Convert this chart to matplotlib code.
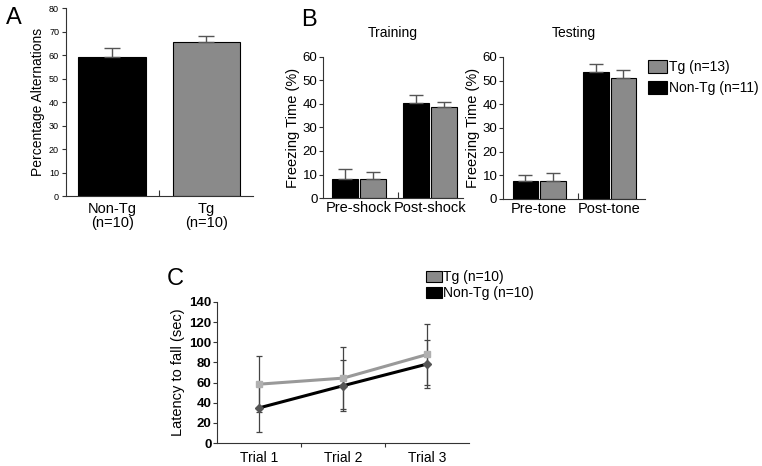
import numpy as np
import matplotlib
matplotlib.use('Agg')
import matplotlib.pyplot as plt
from matplotlib.patches import Patch
from matplotlib.lines import Line2D

plt.rcParams['font.family'] = ['Liberation Sans', 'DejaVu Sans']

# panel A - spontaneous alternation
a_groups = ['Non-Tg\n(n=10)', 'Tg\n(n=10)']
a_means = [59.5, 65.5]
a_err = [3.5, 2.7]

# panel B - fear conditioning
train_cats = ['Pre-shock', 'Post-shock']
train_nontg = [8.0, 40.5]
train_nontg_err = [4.2, 3.2]
train_tg = [8.0, 38.5]
train_tg_err = [3.2, 2.2]

test_cats = ['Pre-tone', 'Post-tone']
test_nontg = [7.5, 53.5]
test_nontg_err = [2.5, 3.5]
test_tg = [7.5, 51.0]
test_tg_err = [3.5, 3.3]

# panel C - rotarod
trials = ['Trial 1', 'Trial 2', 'Trial 3']
c_tg = [58.5, 64.5, 88.0]
c_tg_err = [28.0, 31.0, 30.0]
c_nontg = [35.0, 57.0, 78.5]
c_nontg_err = [24.0, 25.0, 24.0]

black = '#000000'
gray = '#8a8a8a'
errc = '#555555'

fig = plt.figure(figsize=(7.62, 4.66), dpi=100)


def style_axes(ax):
    for s in ['top', 'right']:
        ax.spines[s].set_visible(False)
    for s in ['left', 'bottom']:
        ax.spines[s].set_color('#333333')
        ax.spines[s].set_linewidth(0.8)


# ---- A ----
axA = fig.add_axes([0.0866, 0.579, 0.245, 0.403])
x = np.arange(len(a_groups))
axA.bar(x, a_means, width=0.72, color=[black, gray], edgecolor=black, linewidth=0.8,
        yerr=[[0, 0], a_err], error_kw=dict(ecolor=errc, capsize=6, elinewidth=1, capthick=1))
axA.set_xlim(-0.49, 1.49)
axA.set_ylim(0, 80)
axA.set_yticks(np.arange(0, 81, 10))
axA.tick_params(axis='y', labelsize=6.5, length=3, width=0.8, color='#333333', pad=2)
axA.set_xticks(x)
axA.set_xticklabels(a_groups, fontsize=10.5, linespacing=1.0)
axA.tick_params(axis='x', length=0, pad=4)
axA.set_xticks([0.5], minor=True)
axA.tick_params(axis='x', which='minor', direction='in', length=4, width=0.8, color='#333333')
axA.set_ylabel('Percentage Alternations', fontsize=10, labelpad=3)
style_axes(axA)


def fear_panel(rect, cats, nontg, nontg_err, tg, tg_err, title, xlim):
    ax = fig.add_axes(rect)
    xx = np.arange(len(cats))
    ax.bar(xx - 0.197, nontg, width=0.366, color=black, edgecolor=black, linewidth=0.8,
           yerr=[[0] * len(nontg), nontg_err],
           error_kw=dict(ecolor=errc, capsize=5, elinewidth=1, capthick=1))
    ax.bar(xx + 0.197, tg, width=0.366, color=gray, edgecolor=black, linewidth=0.8,
           yerr=[[0] * len(tg), tg_err],
           error_kw=dict(ecolor=errc, capsize=5, elinewidth=1, capthick=1))
    ax.set_xlim(*xlim)
    ax.set_ylim(0, 60)
    ax.set_yticks(np.arange(0, 61, 10))
    ax.tick_params(axis='y', labelsize=9.5, length=3, width=0.8, color='#333333', pad=1)
    ax.set_xticks(xx)
    ax.set_xticklabels(cats, fontsize=10.5)
    ax.tick_params(axis='x', length=0, pad=2)
    ax.set_xticks([0.55], minor=True)
    ax.tick_params(axis='x', which='minor', direction='in', length=4, width=0.8, color='#333333')
    ax.set_ylabel('Freezing Time (%)', fontsize=10.5, labelpad=2)
    ax.set_title(title, fontsize=10, pad=14)
    style_axes(ax)
    return ax


fear_panel([0.424, 0.575, 0.184, 0.303], train_cats, train_nontg, train_nontg_err,
           train_tg, train_tg_err, 'Training', (-0.507, 1.465))
fear_panel([0.660, 0.573, 0.186, 0.305], test_cats, test_nontg, test_nontg_err,
           test_tg, test_tg_err, 'Testing', (-0.518, 1.5))

legB = fig.legend(handles=[Patch(facecolor=gray, edgecolor=black, linewidth=0.8),
                           Patch(facecolor=black, edgecolor=black, linewidth=0.8)],
                  labels=['Tg (n=13)', 'Non-Tg (n=11)'],
                  loc='upper left', bbox_to_anchor=(0.851, 0.872), frameon=False,
                  fontsize=10, handlelength=1.3, handleheight=1.1, handletextpad=0.15,
                  labelspacing=0.5, borderpad=0, borderaxespad=0)

# ---- C ----
axC = fig.add_axes([0.285, 0.049, 0.331, 0.303])
xc = np.arange(len(trials))
axC.errorbar(xc, c_tg, yerr=c_tg_err, color='#999999', ecolor='#444444', elinewidth=0.9,
             capsize=2, capthick=0.9, linewidth=2.2, marker='s', markersize=4.5,
             markerfacecolor='#b0b0b0', markeredgecolor='#b0b0b0', zorder=3)
axC.errorbar(xc, c_nontg, yerr=c_nontg_err, color=black, ecolor='#444444', elinewidth=0.9,
             capsize=2, capthick=0.9, linewidth=2.2, marker='D', markersize=4,
             markerfacecolor='#555555', markeredgecolor='#555555', zorder=3)
axC.set_xlim(-0.5, 2.5)
axC.set_ylim(0, 140)
axC.set_yticks(np.arange(0, 141, 20))
for lbl in axC.get_yticklabels():
    lbl.set_fontweight('bold')
axC.tick_params(axis='y', labelsize=9.5, length=3, width=0.8, color='#333333', pad=1)
axC.set_xticks(xc)
axC.set_xticklabels(trials, fontsize=10)
axC.tick_params(axis='x', length=0, pad=6)
axC.set_xticks([0.5, 1.5], minor=True)
axC.tick_params(axis='x', which='minor', direction='out', length=3, width=0.8, color='#333333')
axC.set_ylabel('Latency to fall (sec)', fontsize=10.5, labelpad=3)
style_axes(axC)

legC = fig.legend(handles=[Patch(facecolor=gray, edgecolor=black, linewidth=0.8),
                           Patch(facecolor=black, edgecolor=black, linewidth=0.8)],
                  labels=['Tg (n=10)', 'Non-Tg (n=10)'],
                  loc='upper left', bbox_to_anchor=(0.559, 0.42), frameon=False,
                  fontsize=10, handlelength=1.15, handleheight=0.9, handletextpad=0.1,
                  labelspacing=0.15, borderpad=0, borderaxespad=0)

# panel letters
fig.text(0.008, 0.985, 'A', fontsize=17, va='top', ha='left')
fig.text(0.395, 0.980, 'B', fontsize=17, va='top', ha='left')
fig.text(0.219, 0.425, 'C', fontsize=17, va='top', ha='left')

fig.savefig('out.png', dpi=100)
